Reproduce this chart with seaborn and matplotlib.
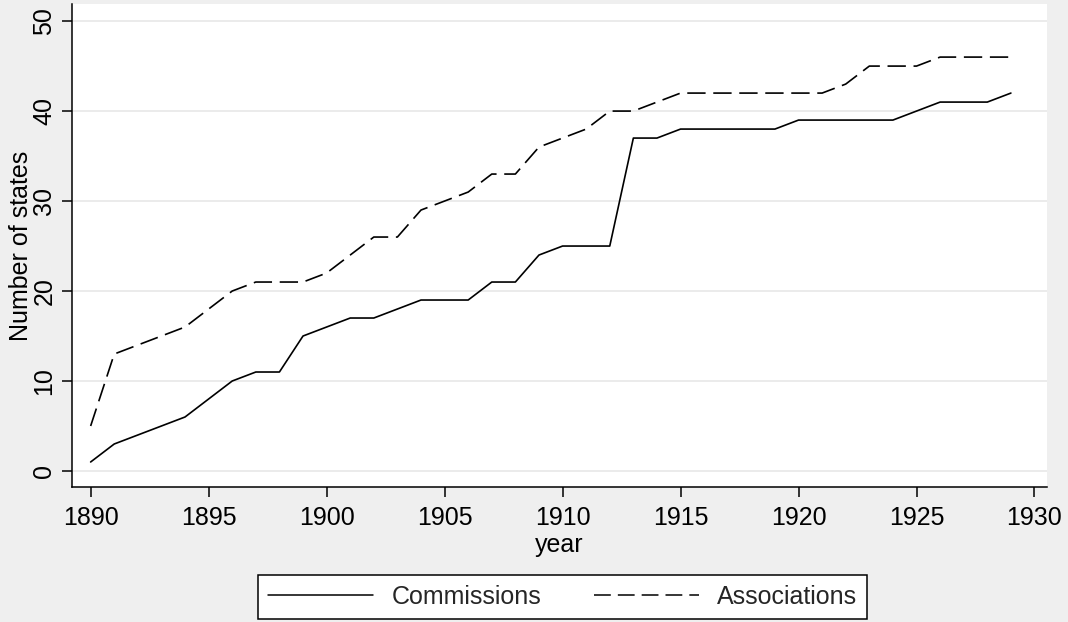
import matplotlib
matplotlib.use('Agg')
import matplotlib.pyplot as plt
import seaborn as sns
import pandas as pd

# dados
years = list(range(1890, 1930))
commissions = [1, 3, 4, 5, 6, 8, 10, 11, 11, 15,
               16, 17, 17, 18, 19, 19, 19, 21, 21, 24,
               25, 25, 25, 37, 37, 38, 38, 38, 38, 38,
               39, 39, 39, 39, 39, 40, 41, 41, 41, 42]
associations = [5, 13, 14, 15, 16, 18, 20, 21, 21, 21,
                22, 24, 26, 26, 29, 30, 31, 33, 33, 36,
                37, 38, 40, 40, 41, 42, 42, 42, 42, 42,
                42, 42, 43, 45, 45, 45, 46, 46, 46, 46]
series_names = ['Commissions', 'Associations']
xticks = list(range(1890, 1931, 5))
yticks = list(range(0, 51, 10))

df = pd.DataFrame({'year': years, 'Commissions': commissions,
                   'Associations': associations})
df = df.melt(id_vars='year', var_name='series', value_name='states')

sns.set_theme(style='white')
plt.rcParams['font.family'] = ['Liberation Sans', 'DejaVu Sans']

bg = '#efefef'
fig = plt.figure(figsize=(10.68, 6.22), dpi=100, facecolor=bg)
ax = fig.add_axes([72/1068, 1-487/622, 975/1068, 483/622])
ax.set_facecolor('white')

sns.lineplot(data=df, x='year', y='states', hue='series', style='series',
             hue_order=series_names, style_order=series_names,
             palette=['black', 'black'],
             dashes={'Commissions': '', 'Associations': (11, 4.6)},
             linewidth=1.2, ax=ax)

ax.set_xlim(1889.21, 1930.53)
ax.set_ylim(-1.78, 51.9)
ax.set_xticks(xticks)
ax.set_yticks(yticks)
for y in yticks:
    ax.axhline(y, color='#e6e6e6', lw=1.1, zorder=0)

for s in ['top', 'right']:
    ax.spines[s].set_visible(False)
for s in ['left', 'bottom']:
    ax.spines[s].set_color('black')
    ax.spines[s].set_linewidth(1.1)

ax.tick_params(axis='both', which='major', direction='out', length=7.2,
               width=1.1, color='black', labelsize=18, labelcolor='black',
               left=True, bottom=True)
ax.tick_params(axis='x', pad=6.5)
ax.tick_params(axis='y', pad=4, labelrotation=90)
for t in ax.get_yticklabels():
    t.set_verticalalignment('center')

ax.set_xlabel('year', fontsize=18, color='black', labelpad=2)
ax.set_ylabel('Number of states', fontsize=18, color='black')
ax.yaxis.set_label_coords(-0.04, 0.5)

leg = ax.get_legend()
handles = leg.legend_handles
labels = [t.get_text() for t in leg.get_texts()]
leg.remove()
for h in handles:
    h.set_linewidth(1.1)
fig.legend(handles, labels, loc='center', bbox_to_anchor=(562.5/1068, 1-596.5/622),
           ncol=2, fontsize=18, frameon=True, fancybox=False, framealpha=1,
           facecolor='white', edgecolor='black', handlelength=4.2,
           handletextpad=0.75, columnspacing=2.1, borderpad=0.4,
           borderaxespad=0)
fig.legends[0].get_frame().set_linewidth(1.1)

plt.savefig('out.png', dpi=100, facecolor=bg)
